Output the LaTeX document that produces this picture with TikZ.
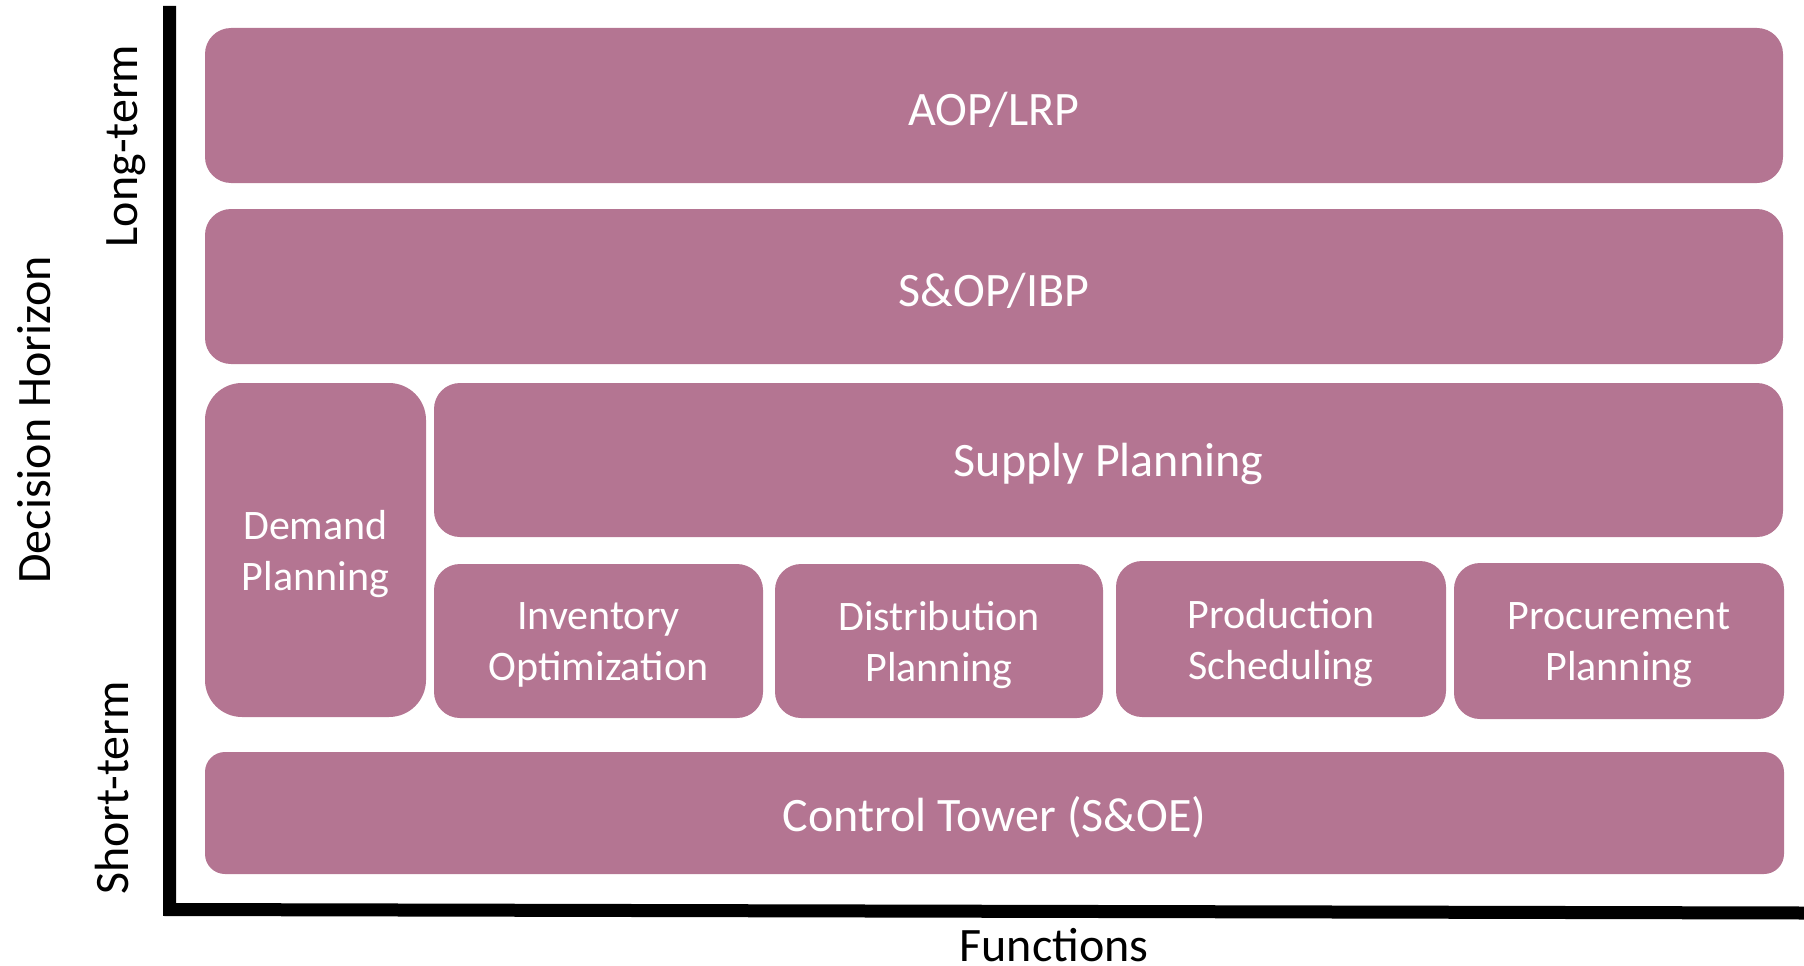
\documentclass[tikz,border=0pt]{standalone}
\usepackage{fontspec}
\setmainfont{Carlito}
\definecolor{boxfill}{RGB}{180,117,146}
\tikzset{
  blk/.style={draw=none, fill=boxfill, rectangle, inner sep=0pt, outer sep=0pt},
  bigtxt/.style={text=white, inner sep=0pt, align=center, yshift=-4pt,
    font=\fontsize{48}{51}\selectfont},
  smalltxt/.style={text=white, inner sep=0pt, align=center, yshift=-4pt,
    font=\fontsize{42}{51}\selectfont},
  axlabel/.style={text=black, inner sep=0pt, anchor=base, font=\fontsize{48}{51}\selectfont},
}
\begin{document}
\begin{tikzpicture}[x=1pt,y=-1pt]
\useasboundingbox (0,0) rectangle (1804,966);
% axes
\coordinate (top) at (169.5,6);
\coordinate (corner) at (169.5,909.5);
\coordinate (right) at (1804,913);
\draw[line width=13pt, line join=miter] (top) -- (corner) -- (right);
% boxes
\node[blk, minimum width=1578pt, minimum height=155pt, rounded corners=26pt,
  label={[bigtxt]center:AOP/LRP}] (aop) at (994,105.5) {};
\node[blk, minimum width=1578pt, minimum height=155pt, rounded corners=26pt,
  label={[bigtxt]center:S\&OP/IBP}] (sop) at (994,286.5) {};
\node[blk, minimum width=1349pt, minimum height=154pt, rounded corners=26pt,
  label={[bigtxt]center:Supply Planning}] (supply) at (1108.5,460) {};
\node[blk, minimum width=221pt, minimum height=334pt, rounded corners=37pt,
  label={[smalltxt]center:{Demand\\Planning}}] (demand) at (315.5,550) {};
\node[blk, minimum width=329pt, minimum height=154pt, rounded corners=26pt,
  label={[smalltxt]center:{Inventory\\Optimization}}] (inv) at (598.5,641) {};
\node[blk, minimum width=328pt, minimum height=154pt, rounded corners=26pt,
  label={[smalltxt]center:{Distribution\\Planning}}] (dist) at (939,641) {};
\node[blk, minimum width=330pt, minimum height=156pt, rounded corners=26pt,
  label={[smalltxt]center:{Production\\Scheduling}}] (prod) at (1281,639) {};
\node[blk, minimum width=330pt, minimum height=156pt, rounded corners=26pt,
  label={[smalltxt]center:{Procurement\\Planning}}] (proc) at (1619,641) {};
\node[blk, minimum width=1579pt, minimum height=122pt, rounded corners=20pt,
  label={[bigtxt]center:Control Tower (S\&OE)}] (ctrl) at (994.5,813) {};
% labels
\node[axlabel, rotate=90] (dh) at (50,420) {Decision Horizon};
\node[axlabel, rotate=90] (lt) at (137,146) {Long-term};
\node[axlabel, rotate=90] (st) at (128,788) {Short-term};
\node[axlabel] (fn) at (1054,961) {Functions};
\end{tikzpicture}
\end{document}
